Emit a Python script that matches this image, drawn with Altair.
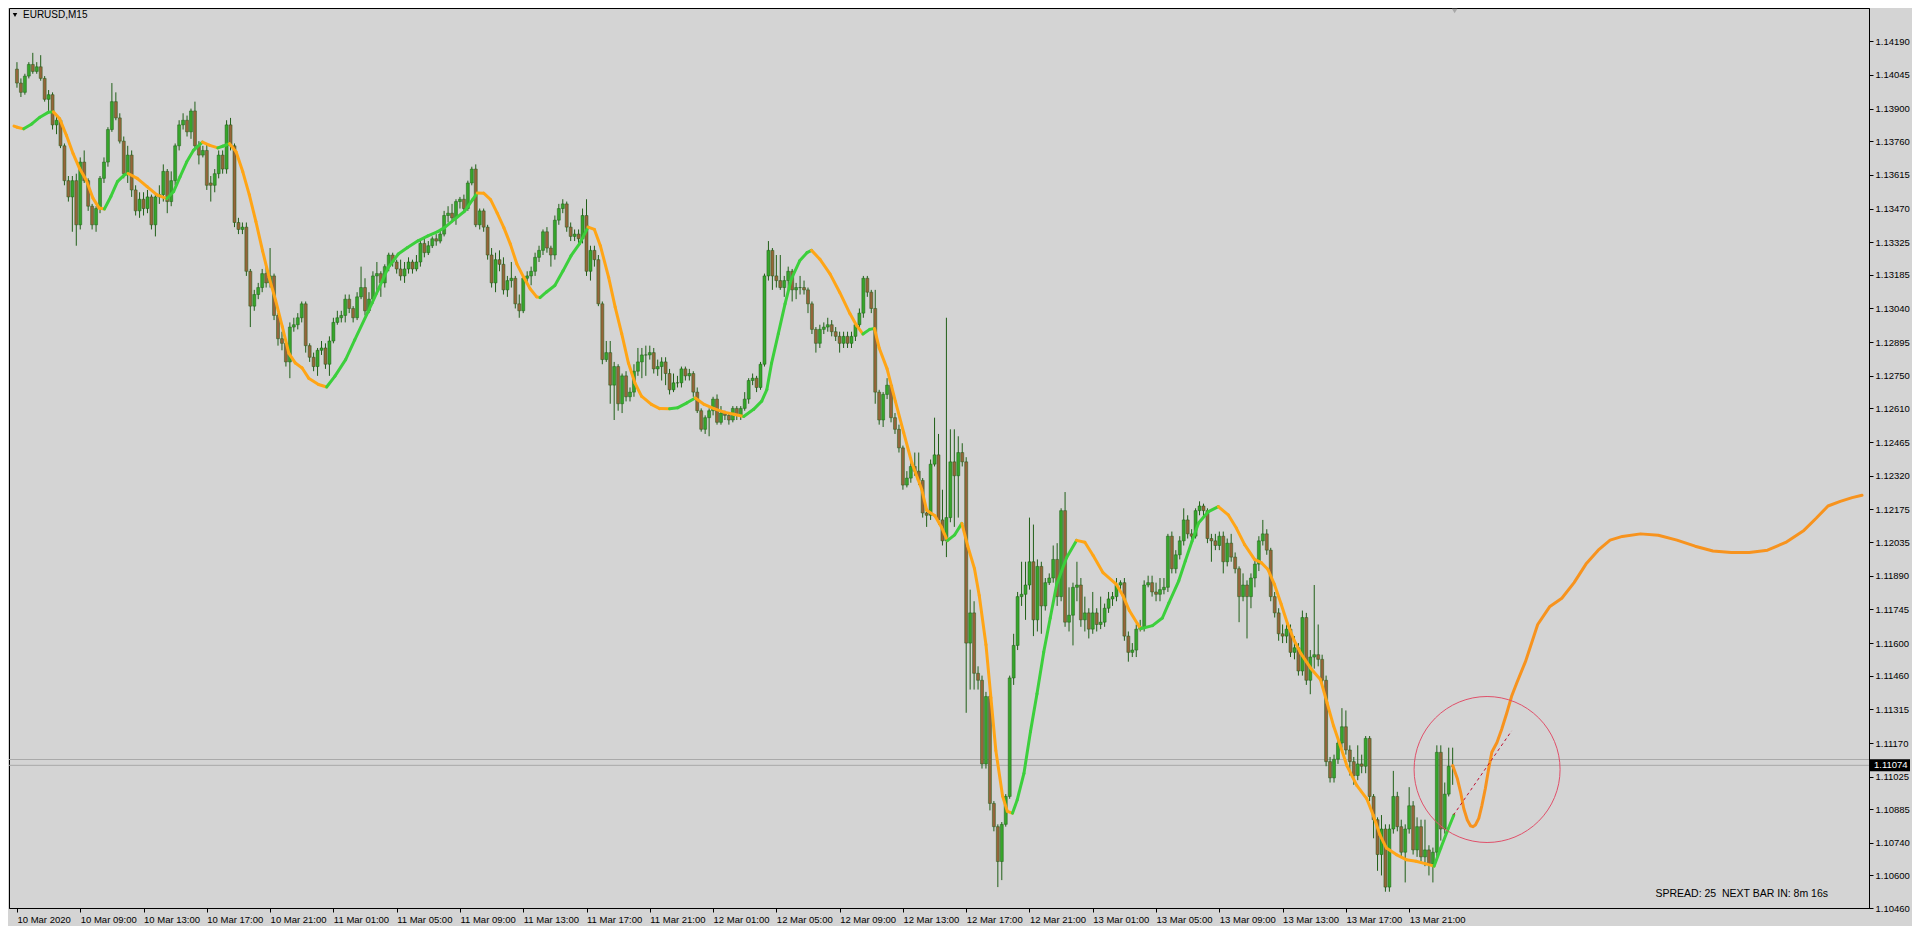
import json
import numpy as np
import pandas as pd
import altair as alt

# ---------------- data (prices in pips above 1.1000) ----------------
BASE = 1.1
PIP = 0.0001

open_v = [
407,401,397,404,409,406,408,403,394,396,
383,385,374,359,352,359,340,367,359,348,
340,347,360,367,381,393,386,376,362,370,
355,346,351,347,352,340,352,353,363,350,
359,374,383,385,380,389,374,370,372,358,
357,362,370,364,383,374,341,338,339,320,
305,310,313,319,315,318,301,291,289,281,
296,297,300,306,288,283,279,286,287,280,
290,298,300,301,308,304,300,309,313,303,
308,318,319,315,322,327,324,321,318,321,
324,321,324,332,328,331,334,333,336,344,
345,343,350,351,347,358,364,340,346,339,
327,315,325,323,312,316,317,306,303,317,
318,320,326,329,337,330,327,342,347,349,
339,335,336,334,344,320,329,325,306,282,
285,271,279,263,275,266,268,277,281,284,
284,285,278,279,281,276,269,272,272,278,
275,276,268,260,252,257,260,265,255,259,
258,256,261,258,261,265,273,274,270,280,
318,329,318,316,313,316,320,312,313,313,
312,306,295,289,295,296,297,294,292,289,
292,289,292,297,302,317,311,304,268,256,
267,271,257,252,244,228,231,236,234,230,
216,215,237,241,213,204,214,238,232,242,
238,160,173,147,144,108,137,91,81,66,
82,94,145,159,180,181,185,195,170,193,
176,186,188,196,180,217,169,172,184,185,
170,173,166,173,168,169,175,179,180,185,
186,163,156,157,166,167,185,186,182,181,
183,184,206,192,198,204,213,207,206,217,
219,217,205,204,202,206,195,203,197,192,
180,185,180,188,194,204,207,200,180,173,
164,163,166,156,158,148,171,144,154,155,
153,144,109,102,110,117,124,114,109,103,
108,107,119,94,84,69,80,55,80,94,
81,70,80,90,71,81,68,71,65,70,
113,80,95,107]

close_v = [
401,397,404,409,406,408,403,394,396,383,
385,374,359,352,359,340,367,359,348,340,
347,360,367,381,393,386,376,362,370,355,
346,351,347,352,340,352,353,363,350,359,
374,383,385,380,389,374,370,372,357,357,
362,370,364,383,374,341,338,339,320,305,
310,313,319,315,318,301,291,289,281,296,
297,300,306,288,283,279,286,287,280,290,
298,300,301,308,304,300,309,313,303,308,
318,319,315,322,327,324,321,318,321,324,
321,324,332,328,331,334,333,336,344,345,
343,350,351,347,358,364,340,346,339,327,
315,325,323,312,316,317,306,303,317,318,
320,326,329,337,330,327,342,347,349,339,
335,336,334,344,320,329,325,306,282,285,
271,279,263,275,266,268,277,281,284,284,
285,278,279,281,276,269,272,272,278,275,
276,268,260,252,257,260,265,255,259,258,
256,261,258,261,265,273,274,270,280,318,
329,318,316,313,316,320,312,313,313,312,
306,295,289,295,296,297,294,292,289,292,
289,292,297,302,317,311,304,268,256,267,
271,257,252,244,228,231,236,234,230,216,
215,237,241,213,204,214,238,232,242,238,
160,173,147,144,108,137,91,81,66,82,
94,145,159,180,181,185,195,170,193,176,
186,188,196,180,217,169,172,184,185,170,
173,166,173,168,169,175,179,180,185,186,
163,156,157,166,167,185,186,182,181,183,
184,206,192,198,204,213,207,206,217,219,
217,205,204,202,206,195,203,197,192,180,
185,180,188,194,204,207,200,180,173,164,
163,166,156,158,148,171,144,154,155,153,
144,109,102,110,117,124,114,109,103,108,
107,119,94,84,69,80,55,80,94,81,
70,80,90,71,81,68,71,65,70,113,
80,95,107,107]

high_v = [
410,403,405,410,414,410,413,404,398,397,
387,386,375,361,361,362,369,372,360,349,
348,361,369,382,401,397,388,378,374,372,
357,354,354,355,353,354,357,366,364,363,
375,385,388,387,390,393,376,374,375,361,
364,372,372,385,386,375,343,341,341,321,
312,315,321,322,330,319,302,294,290,298,
300,302,307,307,289,285,287,290,289,292,
300,303,303,310,310,305,311,322,317,311,
320,324,320,323,328,328,325,325,324,326,
325,327,334,334,333,335,336,338,346,348,
349,351,352,353,359,365,366,347,347,340,
330,328,329,326,318,324,318,310,318,320,
322,328,331,338,339,331,344,349,351,350,
341,338,338,347,351,331,331,327,307,290,
290,281,280,276,277,270,280,287,287,288,
288,287,282,283,283,278,276,275,279,279,
278,277,270,261,258,261,266,267,262,260,
259,262,262,262,268,274,276,275,281,319,
333,330,327,327,318,322,321,315,318,316,
313,307,296,297,298,300,299,296,294,294,
294,294,298,304,318,318,312,312,269,268,
274,272,259,254,245,234,238,242,242,231,
218,239,257,250,226,300,252,252,249,246,
240,183,178,150,146,139,139,92,82,83,
95,146,164,182,195,195,214,211,196,195,
188,190,202,203,218,225,184,186,195,188,
180,175,182,175,180,177,182,182,188,187,
188,165,160,168,170,187,189,189,186,188,
188,207,208,200,206,218,215,209,218,221,
220,218,207,207,208,208,205,207,199,193,
190,187,190,196,206,213,209,201,182,175,
168,169,168,163,160,174,173,157,185,168,
155,146,111,112,119,132,131,116,111,116,
112,120,120,95,85,86,82,82,105,96,
84,82,98,92,85,84,84,73,72,116,
116,100,115,115]

low_v = [
399,395,396,403,405,405,402,393,389,381,
379,373,357,350,337,331,338,358,346,338,
337,345,358,365,380,385,375,360,358,352,
344,343,344,345,338,335,349,350,345,348,
357,372,381,378,377,372,366,369,355,350,
354,360,362,362,372,339,336,336,318,296,
303,308,311,313,313,299,288,286,279,274,
294,295,298,285,281,277,275,284,278,275,
289,297,298,298,302,298,299,308,301,302,
306,310,309,313,320,322,319,316,315,319,
319,320,322,326,327,330,331,332,335,341,
341,340,347,345,346,357,339,338,337,325,
313,311,320,310,309,313,304,300,302,315,
314,318,324,327,328,322,325,340,345,337,
333,333,332,332,318,316,322,305,280,281,
263,256,260,259,264,264,266,275,274,275,
282,276,275,273,271,267,268,270,270,273,
273,266,259,251,250,249,258,254,254,256,
254,255,256,256,260,263,271,268,269,279,
316,312,313,312,309,312,307,308,310,310,
302,293,285,287,293,294,292,290,285,287,
287,287,290,295,300,309,302,263,254,253,
265,255,250,242,226,227,229,232,228,214,
210,213,236,211,202,197,212,210,214,236,
130,140,140,140,106,106,88,79,55,58,
81,93,142,157,176,170,183,163,165,164,
174,185,186,176,178,167,165,159,178,167,
165,162,164,165,166,167,173,176,178,182,
161,152,154,154,165,165,184,180,178,178,
181,182,190,190,196,202,205,203,205,215,
214,203,195,200,200,190,193,195,190,169,
178,162,175,184,191,202,198,178,171,161,
160,160,154,153,146,146,142,138,149,150,
142,107,100,100,108,115,112,103,99,101,
104,104,92,76,62,60,53,53,78,79,
68,57,78,69,68,66,64,60,57,68,
75,78,94,99]

# smoothed moving-average line (bar position, pips)
ma_x = [-0.75, 0, 1.7, 3.75, 5.8, 7.9, 9.2, 10.8, 12.5, 14.2,
        15.8, 17.5, 19.2, 20.8, 22.1, 23.75, 25.4, 27.1, 28.1, 30.4,
        32.9, 35.4, 37.9, 39.6, 41.25, 42.9, 44.6, 46.9, 48.75, 50.8,
        52, 53.75, 55.4, 57.1, 58.75, 60.4, 62.1, 63.75, 65.4, 67.1,
        68.75, 70.4, 72.1, 73.75, 76.25, 78.3, 80.4, 83.1, 85.4, 88.75,
        91.25, 93.9, 96.4, 98.75, 101.4, 103.9, 106.4, 108.1, 110.6, 113.2,
        115.2, 116.4, 118, 119.75, 121.4, 123.1, 124.75, 126.4, 128.1, 129.75,
        131.4, 132.25, 133.9, 136, 138.1, 140.1, 142.25, 144.4, 146, 147.5,
        149.6, 151.25, 152.9, 154.6, 156.25, 157.9, 160.4, 162.5, 165, 167.1,
        169.4, 171.5, 173.75, 176.25, 178.75, 181.25, 183.75, 186.25, 188.3, 189.6,
        190.8, 192.5, 194.2, 195.8, 197.9, 199.75, 200.9, 203, 205.6, 208,
        210.6, 212.25, 213.9, 215.6, 216.8, 218, 220, 222.1, 224.2, 226.25,
        228.75, 230, 232.1, 233.75, 235.25, 237.1, 238.9, 240.4, 242.1, 243.3,
        245, 246.25, 247.5, 249.2, 250.4, 251.7, 252.9, 254.6, 256.25, 257.9,
        259.6, 261.25, 262.9, 265.4, 267.9, 270, 272.1, 274.6, 277.9, 279.6,
        281.25, 283.3, 284.1, 287.1, 289.6, 291.25, 293.75, 295.4, 297.1, 298.75,
        301.25, 303.75, 306.25, 308.3, 310.4, 312.9, 314.6, 316.25, 317.9, 319.6,
        321.25, 322.9, 324.6, 327.1, 329.6, 331.25, 332.9, 334.6, 336.25, 338.75,
        341.25, 342.9, 344.6, 346.25, 348.75, 351.25, 353.75, 356.25, 358.3, 360,
        361.6, 363.3]
ma_v = [382.5, 382, 381.3, 383.4, 386.3, 388.4, 388.6, 385.6, 378.5, 370.6,
        364.3, 359.3, 351.5, 347.2, 346.8, 352.2, 358.6, 361.4, 362.1, 360,
        356.4, 352.9, 351.3, 354.3, 360.7, 367, 372, 375.6, 374.2, 373.1,
        373.8, 374.9, 371.4, 362.8, 352.9, 341.5, 328.8, 317.4, 307.5, 296.1,
        284.7, 280.5, 278.4, 274, 271.3, 270.2, 274.9, 282, 290.5, 302.5,
        311.8, 321.7, 327.4, 330.2, 333.1, 335.2, 337.1, 338.8, 342.3, 345.9,
        350.8, 353.7, 353.6, 350.8, 345.1, 338.8, 331.7, 323.1, 317.5, 312.5,
        309, 308.7, 311.1, 313.9, 320.3, 326.7, 331.9, 339, 338, 331,
        317.4, 304.6, 293.2, 280.5, 271.9, 266.3, 262.7, 260.9, 260.8, 261.3,
        263.4, 265.5, 262.7, 260.9, 259.4, 258.5, 257.5, 260.6, 264.1, 269.1,
        280.5, 293.2, 306, 316.7, 324.5, 328, 329, 325.2, 318.8, 311,
        301.8, 296.8, 293, 295, 295.4, 287, 278, 264, 250.6, 237.6,
        226.2, 217.2, 214.8, 209.9, 204.1, 206.6, 211.5, 201.7, 192, 180.5,
        159.3, 136.5, 113.7, 94.2, 87.6, 86.8, 92.5, 103.9, 121.9, 138.2,
        156.1, 170.8, 185.4, 196.8, 204.2, 203.4, 197.7, 190.3, 185.4, 180.5,
        174, 168.3, 166.2, 167.5, 170.8, 177.3, 186.8, 195.3, 203.8, 211.7,
        216.6, 218.7, 215.2, 209.5, 202.4, 196, 194.6, 191.8, 185.4, 176.9,
        168.3, 161.2, 155.6, 149.2, 144.2, 134.3, 124.3, 115.8, 107.3, 98.8,
        93.1, 86, 77.5, 71.8, 69, 66.8, 66.1, 65, 64, 71.8,
        78.9, 86]

# projected (forecast) curve beyond the last bar
fc_x = [363, 364.2, 365, 365.8, 366.7, 367.5, 368.1, 368.75, 369.6, 370.4,
        371.25, 372.1, 372.9, 374.2, 375.4, 376.7, 377.9, 379.2, 381.4, 384.5,
        387.5, 390.6, 393.7, 396.7, 399.8, 402.8, 405.9, 410.5, 415, 419.7,
        424.3, 428.8, 433.4, 438, 442.6, 447.2, 451.8, 454.9, 457.9, 461,
        464, 466.5]
fc_v = [107.3, 101.6, 95.9, 88.8, 83.9, 81.4, 81, 81.7, 84.6, 90.2,
        97.3, 105.9, 113, 117.2, 122.9, 130, 137.1, 142.8, 152, 168,
        175.6, 179.3, 186, 194, 200, 204.3, 205.9, 207, 206.4, 204.3,
        201.7, 199.6, 199, 199, 200, 203.3, 208.5, 213.7, 219, 221,
        222.6, 223.6]

# dashed projection segment and highlight circle
dash_x = [363.2, 377.9]
dash_v = [86, 122.2]
circle_x = [371.7]
circle_v = [105.6]

BID = 1.11074
ASK = 1.11099

y_ticks = [1.14190, 1.14045, 1.13900, 1.13760, 1.13615, 1.13470, 1.13325,
           1.13185, 1.13040, 1.12895, 1.12750, 1.12610, 1.12465, 1.12320,
           1.12175, 1.12035, 1.11890, 1.11745, 1.11600, 1.11460, 1.11315,
           1.11170, 1.11025, 1.10885, 1.10740, 1.10600, 1.10460]
x_labels = ["10 Mar 2020", "10 Mar 09:00", "10 Mar 13:00", "10 Mar 17:00",
            "10 Mar 21:00", "11 Mar 01:00", "11 Mar 05:00", "11 Mar 09:00",
            "11 Mar 13:00", "11 Mar 17:00", "11 Mar 21:00", "12 Mar 01:00",
            "12 Mar 05:00", "12 Mar 09:00", "12 Mar 13:00", "12 Mar 17:00",
            "12 Mar 21:00", "13 Mar 01:00", "13 Mar 05:00", "13 Mar 09:00",
            "13 Mar 13:00", "13 Mar 17:00", "13 Mar 21:00"]
BARS_PER_LABEL = 16

# ---------------- styling ----------------
W, H = 1860, 900
BG = "#d4d4d4"
BULL = "#36a52b"
BEAR = "#96643a"
WICK = "#215f18"
MA_UP = "#3ccf3c"
MA_DN = "#ffa516"
FC = "#f7931e"
FONT = "Liberation Sans"
FS = 9.5

# ---------------- tables ----------------
p = lambda v: BASE + v * PIP
n = len(close_v)
bars = pd.DataFrame({
    "i": np.arange(n),
    "o": [p(v) for v in open_v[:n]],
    "h": [p(v) for v in high_v[:n]],
    "l": [p(v) for v in low_v[:n]],
    "c": [p(v) for v in close_v[:n]],
})
bars["dir"] = np.where(bars["c"] >= bars["o"], "up", "down")

seg = pd.DataFrame({
    "i": ma_x[:-1], "i2": ma_x[1:],
    "p": [p(v) for v in ma_v[:-1]], "p2": [p(v) for v in ma_v[1:]],
})
seg["dir"] = np.where(seg["p2"] >= seg["p"], "up", "down")

fc = pd.DataFrame({"i": fc_x, "p": [p(v) for v in fc_v], "k": range(len(fc_x))})
dash = pd.DataFrame({"i": [dash_x[0]], "i2": [dash_x[1]],
                     "p": [p(dash_v[0])], "p2": [p(dash_v[1])]})
circ = pd.DataFrame({"i": circle_x, "p": [p(v) for v in circle_v]})
lines = pd.DataFrame({"p": [BID, ASK]})
lastp = pd.DataFrame({"p": [BID], "t": [f"{BID:.5f}"]})

xs = alt.Scale(domain=[-0.75, 467], nice=False, zero=False)
ys = alt.Scale(domain=[1.10460, 1.14333], nice=False, zero=False)

label_expr = f"{json.dumps(x_labels)}[round(datum.value/{BARS_PER_LABEL})]"
xaxis = alt.Axis(values=[k * BARS_PER_LABEL for k in range(len(x_labels))],
                 labelExpr=label_expr, title=None, grid=False,
                 labelAlign="left", labelPadding=2, tickSize=4,
                 labelFont=FONT, labelFontSize=FS, labelColor="black",
                 tickColor="black", domainColor="black",
                 labelOverlap=False, labelFlush=False, labelBound=False)
yaxis = alt.Axis(values=y_ticks, format=".5f", orient="right", title=None,
                 grid=False, tickSize=4, labelPadding=2, labelFont=FONT,
                 labelFontSize=FS, labelColor="black", tickColor="black",
                 domainColor="black", labelOverlap=False, labelFlush=False,
                 labelBound=False)


def X(f):
    return alt.X(f, type="quantitative", scale=xs, axis=xaxis)


def Y(f):
    return alt.Y(f, type="quantitative", scale=ys, axis=yaxis)


wicks = alt.Chart(bars).mark_rule(color=WICK, strokeWidth=1, clip=True).encode(
    x=X("i"), y=Y("l"), y2="h")

bodies = alt.Chart(bars).mark_bar(size=3, stroke=WICK, strokeWidth=0.5,
                                  clip=True).encode(
    x=X("i"), y=Y("o"), y2="c",
    fill=alt.Fill("dir:N", scale=alt.Scale(domain=["up", "down"],
                                           range=[BULL, BEAR]), legend=None))

price_lines = alt.Chart(lines).mark_rule(color="#a9a9a9", strokeWidth=1).encode(
    y=Y("p"))

ma = alt.Chart(seg).mark_rule(strokeWidth=3, strokeCap="round", clip=True).encode(
    x=X("i"), x2="i2", y=Y("p"), y2="p2",
    color=alt.Color("dir:N", scale=alt.Scale(domain=["up", "down"],
                                             range=[MA_UP, MA_DN]), legend=None))

forecast = alt.Chart(fc).mark_line(color=FC, strokeWidth=3, strokeCap="round",
                                   strokeJoin="round", clip=True).encode(
    x=X("i"), y=Y("p"), order="k:Q")

dashed = alt.Chart(dash).mark_rule(color="#c01030", strokeWidth=1,
                                   strokeDash=[3, 3]).encode(
    x=X("i"), x2="i2", y=Y("p"), y2="p2")

circle = alt.Chart(circ).mark_point(shape="circle", size=146 * 146, filled=False,
                                    stroke="#e0506a", strokeWidth=1,
                                    opacity=1).encode(x=X("i"), y=Y("p"))

price_box = alt.Chart(lastp).mark_rect(color="black", yOffset=-6, y2Offset=6,
                                       clip=False).encode(
    x=alt.value(W + 1), x2=alt.value(W + 41), y=Y("p"), y2="p")
price_txt = alt.Chart(lastp).mark_text(color="white", align="left",
                                       baseline="middle", font=FONT,
                                       fontSize=FS).encode(
    x=alt.value(W + 5), y=Y("p"), text="t:N")

title_df = pd.DataFrame({"t": ["EURUSD,M15"]})
title = alt.Chart(title_df).mark_text(align="left", baseline="middle", font=FONT,
                                      fontSize=10, color="black").encode(
    x=alt.value(14), y=alt.value(7), text="t:N")
tri = alt.Chart(title_df).mark_point(shape="triangle-down", filled=True, size=20,
                                     color="black", opacity=1).encode(
    x=alt.value(6), y=alt.value(7))

spread_df = pd.DataFrame({"t": ["SPREAD: 25\u00a0 NEXT BAR IN: 8m 16s"]})
spread = alt.Chart(spread_df).mark_text(align="right", baseline="middle",
                                        font=FONT, fontSize=10.5,
                                        color="black").encode(
    x=alt.value(W - 41), y=alt.value(H - 14), text="t:N")

shift_df = pd.DataFrame({"i": [363.5]})
shift = alt.Chart(shift_df).mark_point(shape="triangle-down", filled=True,
                                       size=30, color="#a8a8a8",
                                       opacity=1).encode(
    x=X("i"), y=alt.value(3))

chart = alt.layer(
    price_lines, wicks, bodies, ma, forecast, dashed, circle,
    price_box, price_txt, title, tri, spread, shift
).properties(
    width=W, height=H, background=BG,
    padding={"left": 0, "top": 0, "right": 2, "bottom": 2}
).configure_view(stroke="black", strokeWidth=1, fill=BG)

chart.save("out.html", embed_options={"renderer": "svg", "actions": False})
